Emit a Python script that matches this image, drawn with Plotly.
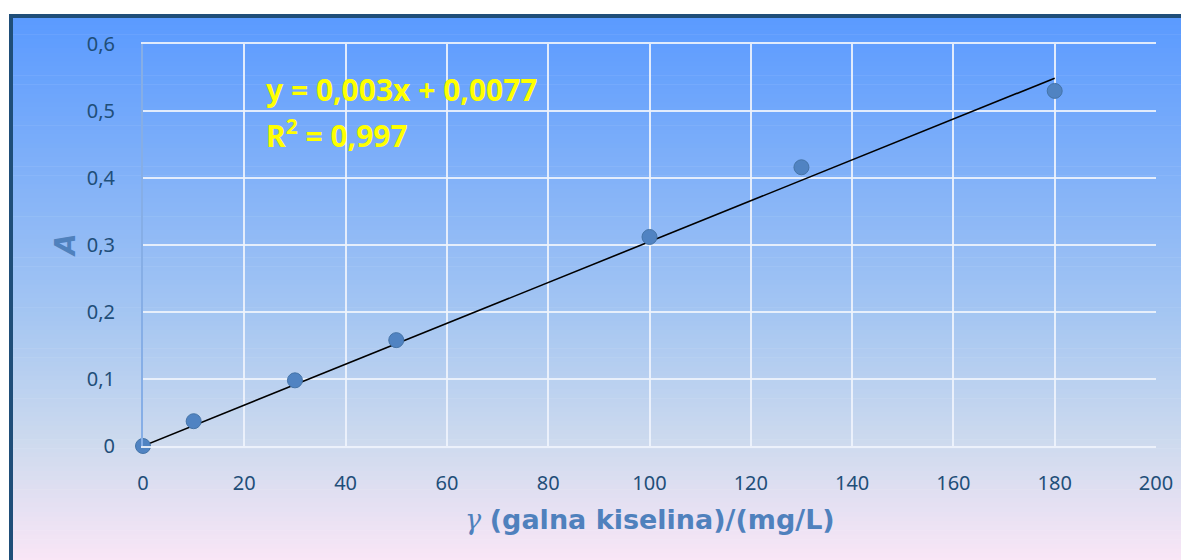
import plotly.graph_objects as go

# ---- data ----
conc = [0, 10, 30, 50, 100, 130, 180]          # γ (galna kiselina) / (mg/L)
absorb = [0.0, 0.037, 0.098, 0.158, 0.312, 0.416, 0.530]  # A
fit_x = [0, 180]                                # trend line ends
fit_y = [0.0, 0.549]
eq_text = "y = 0,003x + 0,0077"
r2_text = "0,997"
x_ticks = [0, 20, 40, 60, 80, 100, 120, 140, 160, 180, 200]
y_ticks = [0, 0.1, 0.2, 0.3, 0.4, 0.5, 0.6]

# page body adds an 8px offset; work in screen pixels
OFF = 8
W, H = 1189 - OFF, 560 - OFF
S_L, S_R, S_T, S_B = 143, 1156, 44, 446   # plot area in screen px
ML, MT = S_L - OFF, S_T - OFF
MR, MB = W - (S_R - OFF), H - (S_B - OFF)
PW, PH = S_R - S_L, S_B - S_T


def px(xs):
    return (xs - S_L) / PW


def py(ys):
    return (S_B - ys) / PH


def lerp(c1, c2, t):
    return tuple(round(a + (b - a) * t) for a, b in zip(c1, c2))


stops = [(0.0, (90, 154, 255)), (0.55, (165, 198, 242)), (0.78, (205, 218, 238)), (1.0, (250, 230, 246))]


def grad(t):
    for (t0, c0), (t1, c1) in zip(stops[:-1], stops[1:]):
        if t <= t1:
            return lerp(c0, c1, (t - t0) / (t1 - t0))
    return stops[-1][1]


shapes = []
top, bot = 16, 562
N = 120
for i in range(N):
    y0 = top + (bot - top) * i / N
    y1 = top + (bot - top) * (i + 1) / N + 0.6
    c = grad((i + 0.5) / N)
    shapes.append(dict(type="rect", xref="paper", yref="paper", layer="below",
                       x0=px(11), x1=px(1200), y0=py(y1), y1=py(y0),
                       fillcolor="rgb(%d,%d,%d)" % c, line=dict(width=0)))
shapes.append(dict(type="rect", xref="paper", yref="paper", layer="below",
                   x0=px(11), x1=px(1205), y0=py(575), y1=py(16),
                   fillcolor="rgba(0,0,0,0)", line=dict(color="#1F4E79", width=4)))

fig = go.Figure()
fig.add_trace(go.Scatter(x=fit_x, y=fit_y, mode="lines",
                         line=dict(color="black", width=1.6), showlegend=False,
                         cliponaxis=False))
fig.add_trace(go.Scatter(x=conc, y=absorb, mode="markers",
                         marker=dict(size=15, color="#5083C2",
                                     line=dict(color="#4574A8", width=1)),
                         showlegend=False, cliponaxis=False))

tickfont = dict(family="Noto Sans", size=20, color="#1F4E79")
grid = "rgba(238,243,252,0.9)"

fig.update_layout(
    width=W, height=H,
    margin=dict(l=ML, r=MR, t=MT, b=MB),
    paper_bgcolor="white",
    plot_bgcolor="rgba(0,0,0,0)",
    separators=",.",
    shapes=shapes,
    xaxis=dict(range=[0, 200], tickvals=x_ticks, showgrid=True, gridcolor=grid, gridwidth=1.5,
               zeroline=False, showline=True, linecolor=grid, linewidth=1.5, mirror=True,
               ticks="outside", ticklen=18, tickcolor="rgba(0,0,0,0)", tickfont=tickfont),
    yaxis=dict(range=[0, 0.6], tickvals=y_ticks, showgrid=True, gridcolor=grid, gridwidth=1.5,
               zeroline=False, showline=True, linecolor="#86AEE6", linewidth=2,
               ticks="outside", ticklen=22, tickcolor="rgba(0,0,0,0)", tickfont=tickfont),
    annotations=[
        dict(xref="paper", yref="paper", x=px(264), y=py(89), xanchor="left", yanchor="middle",
             text="<b>" + eq_text + "</b>", showarrow=False,
             font=dict(family="Noto Sans", size=30, color="#FFFF00")),
        dict(xref="paper", yref="paper", x=px(264), y=py(134), xanchor="left", yanchor="middle",
             text="<b>R<sup>2</sup> = " + r2_text + "</b>", showarrow=False,
             font=dict(family="Noto Sans", size=30, color="#FFFF00")),
        dict(xref="paper", yref="paper", x=px(65), y=py(245), xanchor="center", yanchor="middle",
             text="<b><i>A</i></b>", textangle=-90, showarrow=False,
             font=dict(family="DejaVu Sans", size=28, color="#4F81BD")),
        dict(xref="paper", yref="paper", x=px(650), y=py(519), xanchor="center", yanchor="middle",
             text="<span style='font-family:DejaVu Serif'><i>γ</i></span> <b>(galna kiselina)/(mg/L)</b>",
             showarrow=False,
             font=dict(family="DejaVu Sans", size=27, color="#4F81BD")),
    ],
)

fig.write_html("out.html")
